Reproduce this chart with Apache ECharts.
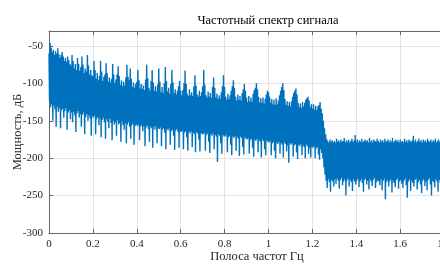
<!DOCTYPE html>
<html>
<head>
<meta charset="utf-8">
<script src="https://cdn.jsdelivr.net/npm/echarts@6/dist/echarts.min.js"></script>
<style>
  html, body { margin: 0; padding: 0; background: #fff; }
  #chart { width: 440px; height: 264px; }
</style>
</head>
<body>
<div id="chart"></div>
<script>
// шаг по частоте, Гц
const step = 0.005;

// верхняя огибающая спектра (дБ), 20 отсчётов на каждые 0.1 Гц
const peakDb = [
  -60, -46, -52, -58, -55, -62, -57, -60, -53, -61, -66, -62, -58, -64, -70, -66, -71, -64, -69, -74,
  -76, -62, -70, -80, -74, -82, -66, -74, -83, -78, -64, -75, -86, -80, -84, -62, -76, -88, -82, -89,
  -90, -70, -82, -94, -86, -96, -90, -70, -84, -97, -91, -88, -73, -86, -98, -92, -99, -94, -74, -88,
  -100, -95, -88, -77, -90, -102, -96, -104, -98, -103, -92, -75, -91, -96, -80, -94, -105, -99, -106, -101,
  -98, -82, -96, -107, -101, -108, -103, -109, -95, -75, -93, -106, -110, -97, -82, -99, -110, -104, -111, -102,
  -80, -98, -112, -105, -113, -100, -78, -97, -111, -106, -114, -101, -82, -99, -113, -108, -115, -110, -104, -97,
  -110, -116, -109, -100, -83, -101, -114, -117, -108, -116, -112, -117, -104, -89, -103, -115, -118, -110, -117, -112,
  -104, -82, -102, -116, -119, -111, -118, -113, -120, -105, -92, -106, -119, -114, -121, -116, -120, -112, -104, -89,
  -105, -118, -122, -114, -121, -116, -110, -104, -96, -106, -118, -123, -115, -122, -117, -123, -113, -108, -101, -110,
  -119, -125, -117, -124, -119, -125, -114, -109, -106, -100, -108, -118, -126, -120, -126, -119, -127, -121, -115, -110,
  -112, -118, -126, -121, -128, -122, -129, -120, -128, -123, -116, -110, -105, -100, -109, -121, -129, -124, -130, -125,
  -131, -124, -118, -113, -110, -107, -115, -126, -132, -127, -133, -125, -131, -126, -122, -120, -118, -123, -132, -128,
  -134, -128, -135, -130, -136, -131, -129, -125, -134, -140, -150, -160, -168, -174, -177, -179, -175, -178, -176, -179,
  -177, -179, -174, -178, -176, -179, -175, -178, -177, -173, -179, -176, -178, -175, -179, -177, -174, -178, -176, -169,
  -178, -175, -179, -176, -178, -174, -179, -177, -175, -178, -176, -179, -173, -178, -176, -179, -175, -177, -178, -174,
  -177, -179, -175, -178, -176, -179, -174, -178, -177, -175, -179, -176, -178, -173, -179, -177, -175, -178, -176, -179,
  -175, -178, -177, -179, -174, -178, -176, -179, -175, -177, -178, -176, -170, -178, -175, -179, -177, -174, -178, -176,
  -179, -175, -178, -176, -179, -174, -177, -178, -175, -179, -176, -178, -174, -179, -177, -175, -178, -176, -179, -175
];

// нижняя огибающая спектра (дБ), те же отсчёты
const floorDb = [
  -125, -132, -128, -150, -130, -135, -158, -131, -138, -133, -160, -136, -134, -146, -137, -133, -162, -139, -136, -148,
  -139, -152, -138, -143, -165, -140, -137, -146, -141, -158, -142, -139, -168, -145, -141, -150, -143, -147, -170, -144,
  -146, -143, -168, -148, -145, -156, -147, -172, -149, -146, -152, -174, -148, -151, -160, -147, -153, -176, -150, -155,
  -152, -170, -149, -155, -153, -178, -151, -156, -162, -153, -180, -155, -152, -158, -174, -156, -154, -182, -157, -155,
  -157, -155, -176, -158, -156, -164, -157, -184, -159, -156, -161, -178, -158, -160, -186, -158, -162, -157, -180, -160,
  -161, -159, -184, -162, -160, -166, -188, -161, -163, -160, -182, -164, -162, -170, -189, -163, -161, -165, -186, -164,
  -165, -163, -188, -166, -164, -172, -190, -165, -167, -164, -185, -166, -168, -192, -165, -167, -175, -191, -166, -168,
  -168, -166, -190, -169, -167, -178, -193, -168, -170, -167, -188, -169, -171, -205, -168, -170, -180, -194, -169, -171,
  -171, -169, -192, -172, -170, -182, -196, -171, -173, -170, -190, -172, -174, -197, -171, -173, -185, -195, -172, -174,
  -175, -173, -194, -176, -174, -186, -198, -175, -177, -174, -192, -176, -178, -199, -175, -177, -188, -196, -176, -178,
  -179, -177, -196, -180, -178, -190, -200, -179, -181, -178, -194, -180, -182, -199, -179, -181, -191, -183, -206, -180,
  -182, -180, -198, -183, -181, -192, -201, -182, -184, -181, -196, -183, -185, -200, -182, -184, -194, -186, -199, -185,
  -186, -184, -200, -187, -185, -195, -202, -188, -193, -200, -212, -222, -230, -240, -228, -232, -245, -229, -231, -238,
  -228, -234, -227, -230, -241, -229, -226, -236, -231, -228, -250, -230, -227, -238, -229, -232, -244, -228, -231, -235,
  -230, -227, -239, -231, -228, -233, -245, -229, -227, -235, -230, -242, -228, -231, -237, -229, -226, -240, -232, -229,
  -231, -236, -228, -243, -230, -227, -255, -232, -229, -238, -231, -228, -246, -230, -233, -239, -229, -227, -241, -231,
  -229, -234, -240, -230, -227, -236, -253, -231, -228, -244, -230, -233, -238, -229, -227, -242, -232, -229, -235, -247,
  -230, -228, -237, -231, -243, -229, -227, -235, -250, -230, -232, -239, -228, -231, -245, -229, -233, -238, -230, -227
];

const titleText = 'Частотный спектр сигнала';
const xName = 'Полоса частот Гц';
const yName = 'Мощность, дБ';

// линия идёт зигзагом: верх, низ, верх...
const spectrum = [];
peakDb.forEach((v, i) => {
  spectrum.push([i * step, v]);
  spectrum.push([i * step + step / 2, floorDb[i]]);
});

const serif = '"Liberation Serif", "DejaVu Serif", serif';
const axisColor = '#666';
const textColor = '#262626';

const chart = echarts.init(document.getElementById('chart'));
chart.setOption({
  animation: false,
  backgroundColor: '#fff',
  grid: { left: 49, right: -48, top: 31, bottom: 31, containLabel: false, outerBoundsMode: 'none' },
  graphic: [
    {
      type: 'text', x: 268, y: 21,
      style: { text: titleText, fill: '#000', fontSize: 12.5, fontFamily: serif, align: 'center', verticalAlign: 'middle' }
    },
    {
      type: 'text', x: 257, y: 257,
      style: { text: xName, fill: textColor, fontSize: 12.5, fontFamily: serif, align: 'center', verticalAlign: 'middle' }
    },
    {
      type: 'text', x: 18, y: 132, rotation: Math.PI / 2,
      style: { text: yName, fill: textColor, fontSize: 12.5, fontFamily: serif, align: 'center', verticalAlign: 'middle' }
    }
  ],
  xAxis: [
    {
      type: 'value', min: 0, max: 2, interval: 0.2,
      axisLine: { show: true, lineStyle: { color: axisColor } },
      axisTick: { show: true, inside: true, length: 4, lineStyle: { color: axisColor } },
      axisLabel: { color: textColor, fontFamily: serif, fontSize: 11, margin: 6 },
      splitLine: { show: true, lineStyle: { color: '#e2e2e2' } }
    },
    {
      type: 'value', position: 'top', min: 0, max: 2, interval: 0.2,
      axisLine: { show: true, lineStyle: { color: axisColor } },
      axisTick: { show: true, inside: true, length: 4, lineStyle: { color: axisColor } },
      axisLabel: { show: false },
      splitLine: { show: false }
    }
  ],
  yAxis: {
    type: 'value', min: -300, max: -30, interval: 50,
    axisLine: { show: true, lineStyle: { color: axisColor } },
    axisTick: { show: true, inside: true, length: 4, lineStyle: { color: axisColor } },
    axisLabel: { color: textColor, fontFamily: serif, fontSize: 11, margin: 6, showMaxLabel: false },
    splitLine: { show: true, lineStyle: { color: '#e2e2e2' } }
  },
  series: [
    {
      type: 'line',
      data: spectrum,
      showSymbol: false,
      lineStyle: { color: '#0072bd', width: 1.4 },
      silent: true
    }
  ]
});
</script>
</body>
</html>
